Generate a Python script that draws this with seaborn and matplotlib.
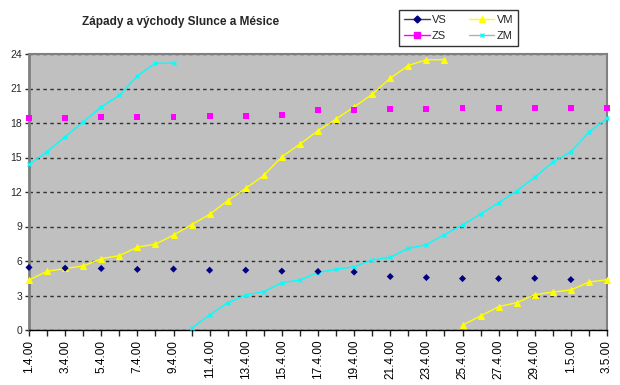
import matplotlib
matplotlib.use("Agg")
import matplotlib.pyplot as plt
from matplotlib.lines import Line2D
import seaborn as sns
import pandas as pd
import numpy as np

NA = np.nan

# dates on the x axis (one per day)
dates = ["%d.4.00" % d for d in range(1, 31)] + ["1.5.00", "2.5.00", "3.5.00"]

# sunrise (VS), every other day
vs = [5.44, NA, 5.38, NA, 5.35, NA, 5.27, NA, 5.30, NA, 5.20, NA, 5.20, NA, 5.12, NA,
      5.09, NA, 5.04, NA, 4.65, NA, 4.56, NA, 4.47, NA, 4.47, NA, 4.50, NA, 4.38, NA, NA]

# sunset (ZS), every other day
zs = [18.42, NA, 18.45, NA, 18.53, NA, 18.53, NA, 18.53, NA, 18.62, NA, 18.62, NA, 18.71, NA,
      19.10, NA, 19.10, NA, 19.19, NA, 19.19, NA, 19.28, NA, 19.28, NA, 19.28, NA, 19.34, NA, 19.34]

# moonrise (VM), daily
vm = [4.35, 5.10, 5.35, 5.56, 6.20, 6.47, 7.20, 7.47, 8.25, 9.16, 10.06, 11.25, 12.32, 13.45,
      15.07, 16.17, 17.33, 18.35, 19.40, 20.50, 21.90, 23.00, 23.50, 23.50, 0.43, 1.22, 2.03,
      2.38, 3.07, 3.30, 3.48, 4.17, 4.37]

# moonset (ZM), daily
zm = [14.40, 15.50, 16.80, 18.10, 19.40, 20.40, 22.10, 23.20, 23.20, 0.15, 1.30, 2.37, 3.04,
      3.33, 4.11, 4.35, 5.00, 5.28, 5.50, 6.09, 6.32, 7.10, 7.42, 8.30, 9.13, 10.09, 11.07,
      12.10, 13.28, 14.60, 15.50, 17.20, 18.40]

df = pd.DataFrame({"day": np.arange(len(dates)), "VS": vs, "ZS": zs, "VM": vm, "ZM": zm})


def segments(col):
    # a new piece starts when the time wraps past midnight
    s = df[col]
    seg = (s.diff() < -12).cumsum()
    return [df[seg == k] for k in seg.unique()]


sns.set_style("white")
plt.rcParams["font.family"] = ["Liberation Sans", "DejaVu Sans"]

fig = plt.figure(figsize=(6.2, 3.85), dpi=100)
ax = fig.add_axes([29 / 620, 1 - 330 / 385, 578 / 620, 276 / 385])
ax.set_facecolor("#c0c0c0")

for part in segments("VM"):
    sns.lineplot(data=part, x="day", y="VM", ax=ax, color="#ffff00", lw=1,
                 marker="^", markersize=5, markeredgecolor="#ffff00", clip_on=False, zorder=3)
for part in segments("ZM"):
    sns.lineplot(data=part, x="day", y="ZM", ax=ax, color="#00ffff", lw=1,
                 marker="x", markersize=3.5, markeredgecolor="#00ffff", markeredgewidth=1,
                 clip_on=False, zorder=3)
sns.scatterplot(data=df, x="day", y="VS", ax=ax, color="#000080", marker="D", s=13,
                edgecolor="none", clip_on=False, zorder=4)
sns.scatterplot(data=df, x="day", y="ZS", ax=ax, color="#ff00ff", marker="s", s=18,
                edgecolor="none", clip_on=False, zorder=4)

ax.set_xlim(0, len(dates) - 1)
ax.set_ylim(0, 24)
ax.set_yticks(range(0, 25, 3))
ax.set_xticks(df["day"])
ax.set_xticklabels([d if i % 2 == 0 else "" for i, d in enumerate(dates)],
                   rotation=90, fontsize=8.5, color="#000000")
ax.tick_params(axis="y", labelsize=7.5, length=3, width=1, direction="out", left=True, pad=2)
ax.tick_params(axis="x", length=4, width=1, direction="out", bottom=True, pad=3)
ax.set_xlabel("")
ax.set_ylabel("")

ax.yaxis.grid(True, linestyle=(0, (2.5, 2.5)), color="#303030", lw=1)
ax.set_axisbelow(True)

for side in ["left", "top", "right"]:
    ax.spines[side].set_color("#808080")
ax.spines["left"].set_linewidth(2)
ax.spines["top"].set_linewidth(1.5)
ax.spines["right"].set_linewidth(1.5)
ax.spines["bottom"].set_color("#000000")
ax.spines["bottom"].set_linewidth(1)

fig.text(181 / 620, 1 - 22 / 385, "Západy a východy Slunce a Mésice", ha="center",
         va="center", fontsize=8.5, fontweight="bold")

handles = [
    Line2D([], [], color="#404040", lw=1, marker="D", markersize=3.5, markerfacecolor="#000080",
           markeredgecolor="#000080"),
    Line2D([], [], color="#ff00ff", lw=1, marker="s", markersize=4, markerfacecolor="#ff00ff",
           markeredgecolor="#ff00ff"),
    Line2D([], [], color="#ffff00", lw=1, marker="^", markersize=4, markerfacecolor="#ffff00",
           markeredgecolor="#ffff00"),
    Line2D([], [], color="#b0b0b0", lw=1, marker="x", markersize=2.5, markeredgecolor="#00ffff"),
]
leg = fig.legend(handles, ["VS", "ZS", "VM", "ZM"], ncol=2, loc="upper left",
                 bbox_to_anchor=(399 / 620, 1 - 10 / 385), frameon=True, fancybox=False,
                 fontsize=8, handlelength=2.3, columnspacing=2.0, borderpad=0.45,
                 labelspacing=0.55, handletextpad=0.2, borderaxespad=0)
leg.get_frame().set_edgecolor("#000000")
leg.get_frame().set_linewidth(1)

fig.savefig("out.png", dpi=100, facecolor="white")
